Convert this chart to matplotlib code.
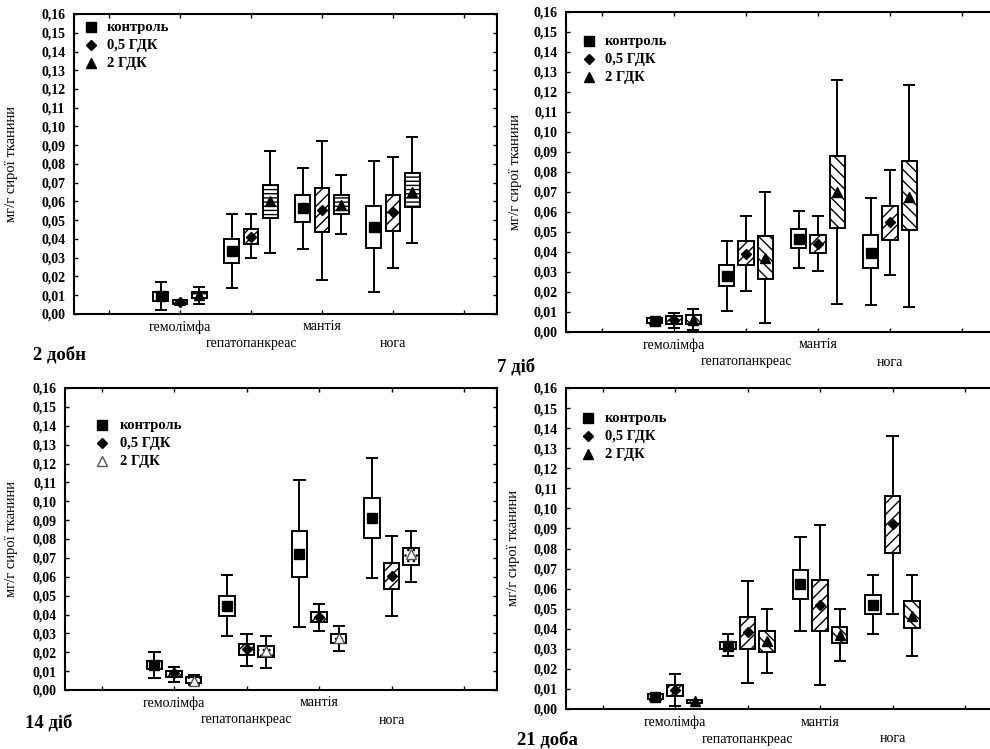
import numpy as np
import matplotlib.pyplot as plt

plt.rcParams['font.family'] = ['Liberation Serif', 'DejaVu Serif']
plt.rcParams['hatch.linewidth'] = 1.0

organs = ['гемолімфа', 'гепатопанкреас', 'мантія', 'нога']
groups = ['контроль', '0,5 ГДК', '2 ГДК']
titles = ['2 добн', '7 діб', '14 діб', '21 доба']
ylabel = 'мг/г сирої тканини'
yticks = np.round(np.arange(0, 0.1601, 0.01), 2)

# (min, q1, mean, q3, max) for each organ
d2_control = [(0.0021, 0.0071, 0.0097, 0.0116, 0.0173), (0.0137, 0.0270, 0.0336, 0.0399, 0.0534),
              (0.0345, 0.0489, 0.0564, 0.0632, 0.0778), (0.0119, 0.0354, 0.0466, 0.0578, 0.0817)]
d2_low = [(0.0050, 0.0052, 0.0062, 0.0072, 0.0074), (0.0300, 0.0372, 0.0413, 0.0454, 0.0534),
          (0.0182, 0.0436, 0.0552, 0.0671, 0.0924), (0.0247, 0.0443, 0.0546, 0.0632, 0.0835)]
d2_high = [(0.0053, 0.0084, 0.0100, 0.0119, 0.0146), (0.0324, 0.0514, 0.0600, 0.0689, 0.0870),
           (0.0425, 0.0534, 0.0582, 0.0632, 0.0742), (0.0381, 0.0568, 0.0653, 0.0751, 0.0943)]

d7_control = [(0.0042, 0.0044, 0.0053, 0.0068, 0.0070), (0.0105, 0.0229, 0.0279, 0.0334, 0.0456),
              (0.0320, 0.0422, 0.0467, 0.0513, 0.0606), (0.0134, 0.0320, 0.0397, 0.0487, 0.0668)]
d7_low = [(0.0020, 0.0042, 0.0060, 0.0078, 0.0097), (0.0205, 0.0334, 0.0392, 0.0456, 0.0581),
          (0.0304, 0.0396, 0.0442, 0.0487, 0.0581), (0.0284, 0.0462, 0.0549, 0.0631, 0.0810)]
d7_high = [(0.0012, 0.0042, 0.0060, 0.0083, 0.0117), (0.0047, 0.0267, 0.0370, 0.0481, 0.0698),
           (0.0139, 0.0521, 0.0701, 0.0881, 0.1260), (0.0125, 0.0509, 0.0673, 0.0855, 0.1235)]

d14_control = [(0.0065, 0.0110, 0.0133, 0.0154, 0.0203), (0.0288, 0.0394, 0.0447, 0.0500, 0.0610),
               (0.0332, 0.0601, 0.0721, 0.0845, 0.1113), (0.0592, 0.0807, 0.0910, 0.1016, 0.1228)]
d14_low = [(0.0044, 0.0071, 0.0088, 0.0101, 0.0124), (0.0127, 0.0186, 0.0216, 0.0242, 0.0295),
           (0.0314, 0.0359, 0.0385, 0.0412, 0.0456), (0.0394, 0.0535, 0.0604, 0.0675, 0.0818)]
d14_high = [(0.0027, 0.0035, 0.0050, 0.0067, 0.0080), (0.0118, 0.0177, 0.0207, 0.0233, 0.0286),
            (0.0207, 0.0251, 0.0277, 0.0297, 0.0341), (0.0574, 0.0663, 0.0719, 0.0754, 0.0845)]

d21_control = [(0.0047, 0.0050, 0.0062, 0.0073, 0.0076), (0.0265, 0.0298, 0.0316, 0.0336, 0.0373),
               (0.0389, 0.0549, 0.0622, 0.0694, 0.0855), (0.0373, 0.0473, 0.0519, 0.0569, 0.0669)]
d21_low = [(0.0017, 0.0067, 0.0095, 0.0120, 0.0173), (0.0128, 0.0298, 0.0383, 0.0461, 0.0636),
           (0.0120, 0.0389, 0.0519, 0.0641, 0.0915), (0.0474, 0.0780, 0.0922, 0.1060, 0.1363)]
d21_high = [(0.0030, 0.0031, 0.0038, 0.0045, 0.0046), (0.0178, 0.0286, 0.0341, 0.0389, 0.0499),
            (0.0240, 0.0331, 0.0369, 0.0408, 0.0499), (0.0265, 0.0406, 0.0464, 0.0536, 0.0669)]

panels = [
    [d2_control, d2_low, d2_high],
    [d7_control, d7_low, d7_high],
    [d14_control, d14_low, d14_high],
    [d21_control, d21_low, d21_high],
]
# hatch of the 2 ГДК boxes differs from panel to panel
high_hatch = ['----', '\\\\\\', '...', '\\\\\\']

W, H = 990, 749
fig = plt.figure(figsize=(W / 100, H / 100), dpi=100)

# pixel geometry: left, top, bottom, x of first organ, px per category
geom = [(72, 14, 314, 180, 71.0), (569, 12, 332, 674, 72.0),
        (67, 388, 690, 174, 72.5), (566, 388, 709, 675, 72.5)]
legend_px = [(91, 27, 107), (589, 41, 605), (102, 425, 120), (588, 418, 605)]
title_px = [(33, 355), (497, 367), (25, 723), (517, 740)]
ylabel_px = [18, 522, 18, 520]

x = np.arange(1, len(organs) + 1)
offsets = [-0.27, 0.0, 0.27]

for p, (data, g) in enumerate(zip(panels, geom)):
    left, top, bottom, x1, unit = g
    xmin, xmax = -0.5, 5.46
    lpx = x1 - (1 - xmin) * unit
    rpx = x1 + (xmax - 1) * unit
    ax = fig.add_axes([lpx / W, 1 - bottom / H, (rpx - lpx) / W, (bottom - top) / H])
    ax.set_xlim(xmin, xmax)
    ax.set_ylim(0, 0.16)

    open_tri = (p == 2)
    styles = [
        dict(hatch=None, mean=dict(marker='s', markersize=7.5, markerfacecolor='black', markeredgecolor='black')),
        dict(hatch='///', mean=dict(marker='D', markersize=5, markerfacecolor='black', markeredgecolor='black')),
        dict(hatch=high_hatch[p],
             mean=dict(marker='^', markersize=6.5,
                       markerfacecolor='white' if open_tri else 'black',
                       markeredgecolor='#555555' if open_tri else 'black')),
    ]

    for k, series in enumerate(data):
        stats = []
        for lo, q1, mean, q3, hi in series:
            stats.append(dict(whislo=lo, q1=q1, med=mean, mean=mean, q3=q3, whishi=hi, fliers=[]))
        bp = ax.bxp(stats, positions=x + offsets[k], widths=0.21, capwidths=0.14,
                    patch_artist=True, showmeans=True, showfliers=False, manage_ticks=False,
                    boxprops=dict(linewidth=1.4, facecolor='white', edgecolor='black'),
                    whiskerprops=dict(linewidth=1.4, color='black'),
                    capprops=dict(linewidth=1.4, color='black'),
                    medianprops=dict(linewidth=0),
                    meanprops=styles[k]['mean'])
        for box in bp['boxes']:
            if styles[k]['hatch']:
                box.set_hatch(styles[k]['hatch'])

        # legend entry
        lx, ly, tx = legend_px[p]
        ax.plot([(lx - lpx) / (rpx - lpx)], [1 - (ly + k * 18 - top) / (bottom - top)],
                transform=ax.transAxes, linestyle='none', clip_on=False, **styles[k]['mean'])
        ax.text((tx - lpx) / (rpx - lpx), 1 - (ly + k * 18 - top) / (bottom - top), groups[k],
                transform=ax.transAxes, ha='left', va='center', fontsize=10.5, fontweight='bold')

    ax.set_xticks(np.arange(0, 6))
    ax.set_xticklabels([])
    ax.set_yticks(yticks)
    ax.set_yticklabels([f'{v:.2f}'.replace('.', ',') for v in yticks], fontsize=10, fontweight='bold')
    ax.tick_params(direction='in', length=3, width=1, top=True, right=True, pad=6)
    for s in ax.spines.values():
        s.set_linewidth(1.5)

    for i, name in enumerate(organs):
        dy = -13 if i % 2 == 0 else -30
        ax.annotate(name, xy=(x[i], 0), xycoords=('data', 'axes fraction'),
                    xytext=(0, dy * 0.72), textcoords='offset points',
                    ha='center', va='center', fontsize=10)

    ax.set_ylabel(ylabel, fontsize=10.5)
    ax.yaxis.set_label_coords((ylabel_px[p] - lpx) / (rpx - lpx), 0.5)

    tx, ty = title_px[p]
    fig.text(tx / W, 1 - ty / H, titles[p], ha='left', va='center', fontsize=13.5, fontweight='bold')

fig.savefig('out.png', dpi=100)
